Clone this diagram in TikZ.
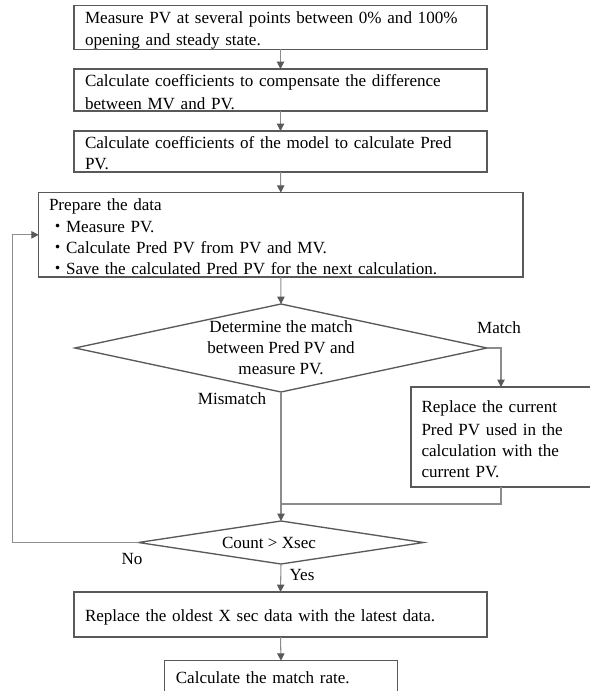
\documentclass[tikz,border=0pt]{standalone}
\usepackage{fontspec}
\setmainfont{Liberation Serif}
\newfontfamily\cjk{Noto Sans CJK JP}
\usetikzlibrary{shapes.geometric,arrows.meta}
\newlength\pxu \setlength\pxu{0.75pt}
\newcommand\lnstrut{\rule[-1.75\pxu]{0pt}{19.25\pxu}}
\definecolor{boxc}{HTML}{595959}
\definecolor{linec}{HTML}{8C8C8C}
\begin{document}
\begin{tikzpicture}[x=0.75pt,y=-0.75pt,
  every node/.style={font=\fontsize{12.8}{15.75}\selectfont, outer sep=0pt},
  box/.style={draw=boxc, line width=1pt, rectangle, inner xsep=11\pxu, inner ysep=0pt, align=left, anchor=center},
  dia/.style={draw=boxc, line width=1pt, diamond, inner sep=0pt},
  conn/.style={draw=linec, line width=0.8pt},
  arr/.style={conn, -{Triangle[length=5.5pt,width=5.5pt,color=boxc]}},
  lbl/.style={inner sep=0pt}]
\useasboundingbox (0,0) rectangle (589,691);
\fill[white] (0,0) rectangle (589,691);
% boxes
\node[box, minimum width=413\pxu, minimum height=43\pxu, text width=391\pxu] (b1) at (280.5,27.5)
  {\lnstrut Measure PV at several points between 0\% and 100\%\\\lnstrut opening and steady state.};
\node[box, minimum width=413\pxu, minimum height=42\pxu, text width=391\pxu] (b2) at (280.5,90)
  {\lnstrut Calculate coefficients to compensate the difference\\\lnstrut between MV and PV.};
\node[box, minimum width=413\pxu, minimum height=41\pxu, text width=391\pxu] (b3) at (280.5,151.5)
  {\lnstrut Calculate coefficients of the model to calculate Pred\\\lnstrut PV.};
\node[box, inner xsep=10.3\pxu, minimum width=484.3\pxu, minimum height=84.3\pxu, text width=463.7\pxu] (b4) at (280.85,234.85)
  {\lnstrut Prepare the data\\\lnstrut{\cjk ・}Measure PV.\\\lnstrut{\cjk ・}Calculate Pred PV from PV and MV.\\\lnstrut{\cjk ・}Save the calculated Pred PV for the next calculation.};
\node[dia, minimum width=412\pxu, minimum height=88\pxu] (d1) at (281,348) {};
\node[lbl, align=center] (d1t) at (281,348) {Determine the match\\between Pred PV and\\measure PV.};
\node[box, inner xsep=10.5\pxu, minimum width=180\pxu, minimum height=100\pxu, text width=159\pxu] (b5) at (501,437)
  {\lnstrut Replace the current\\\lnstrut Pred PV used in the\\\lnstrut calculation with the\\\lnstrut current PV.};
\node[dia, minimum width=285\pxu, minimum height=43\pxu] (d2) at (281,542.5) {};
\node[lbl] (d2t) at (269,543) {Count > Xsec};
\node[box, minimum width=413\pxu, minimum height=45\pxu, text width=391\pxu] (b6) at (280.5,614.5)
  {\lnstrut Replace the oldest X sec data with the latest data.};
\node[box, inner xsep=11.3\pxu, minimum width=233\pxu, minimum height=33\pxu, text width=210.4\pxu] (b7) at (281,677.2)
  {Calculate the match rate.};
% labels
\node[lbl] (lmatch) at (499,327.7) {Match};
\node[lbl] (lmis) at (232,399) {Mismatch};
\node[lbl] (lno) at (132,559) {No};
\node[lbl] (lyes) at (302,575) {Yes};
% connectors
\coordinate (j) at (281,504);
\coordinate (lp) at (12.7,542.5);
\draw[arr] (b1.south) -- (b2.north);
\draw[arr] (b2.south) -- (b3.north);
\draw[arr] (b3.south) -- (b4.north);
\draw[arr] (b4.south) -- (d1.north);
\draw[arr] (d1.east) -| (b5.north);
\draw[arr] (d1.south) -- (d2.north);
\draw[conn] (b5.south) |- (j);
\draw[arr] (d2.west) -- (lp) |- (b4.west);
\draw[arr] (d2.south) -- (b6.north);
\draw[arr] (b6.south) -- (b7.north);
\end{tikzpicture}
\end{document}
